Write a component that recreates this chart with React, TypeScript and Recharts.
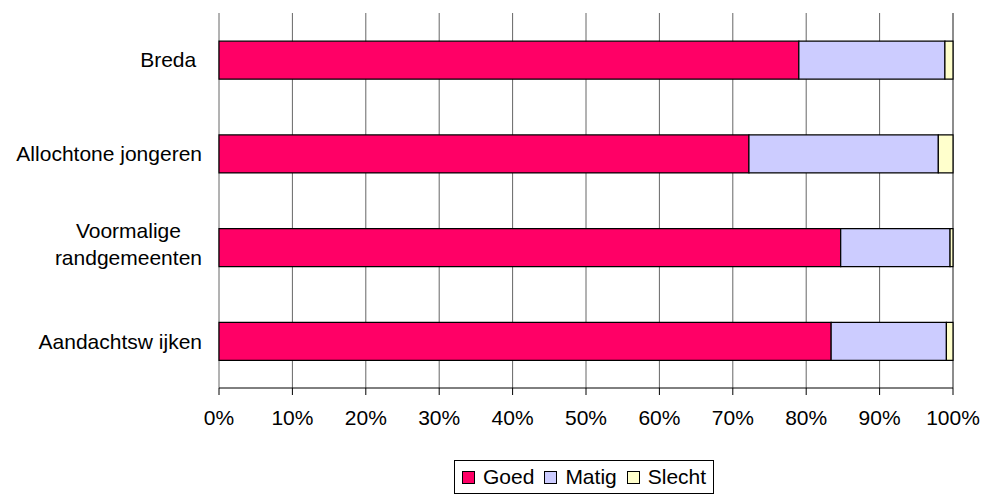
import React from 'react';
import { BarChart, Bar, XAxis, YAxis, CartesianGrid, Legend } from 'recharts';

const categories = ['Breda ', 'Allochtone jongeren', 'Voormalige\nrandgemeenten', 'Aandachtsw ijken'];
const goed = [79.0, 72.2, 84.7, 83.4];
const matig = [19.9, 25.8, 14.9, 15.7];
const slecht = [1.1, 2.0, 0.4, 0.9];
const xTicks = [0, 10, 20, 30, 40, 50, 60, 70, 80, 90, 100];
const frameTicks = [0, 1, 2, 3, 4];

const series = [
  { key: 'Goed', color: '#FF0066' },
  { key: 'Matig', color: '#CCCCFF' },
  { key: 'Slecht', color: '#FFFFCC' },
];

const data = categories.map((name, i) => ({ name, Goed: goed[i], Matig: matig[i], Slecht: slecht[i] }));

const FONT = '"Liberation Sans", Arial, sans-serif';
const FS = 21;

let ctx: CanvasRenderingContext2D | null = null;
const measure = (s: string) => {
  if (!ctx) ctx = document.createElement('canvas').getContext('2d');
  if (!ctx) return s.length * FS * 0.5;
  ctx.font = `${FS}px "Liberation Sans", Arial, sans-serif`;
  return ctx.measureText(s).width;
};

const CatTick = ({ x, y, payload }: any) => {
  const lines = String(payload.value).split('\n');
  if (lines.length === 1) {
    return (
      <text x={x} y={y} dy="0.36em" textAnchor="end" fontSize={FS} fontFamily={FONT} fill="#000" style={{ whiteSpace: 'pre' }}>
        {lines[0]}
      </text>
    );
  }
  // multi-line labels are centred on the widest line, right edge at the tick
  const w = Math.max(...lines.map(measure));
  const cx = x - w / 2;
  const lh = 27.5;
  const start = -((lines.length - 1) * lh) / 2 - 3.5;
  return (
    <text x={cx} y={y} textAnchor="middle" fontSize={FS} fontFamily={FONT} fill="#000">
      {lines.map((l, i) => (
        <tspan key={i} x={cx} dy={i === 0 ? start + 0.36 * FS : lh}>{l}</tspan>
      ))}
    </text>
  );
};

const LegendBox = () => (
  <div style={{ border: '1px solid #000', height: 34, boxSizing: 'border-box', display: 'flex', alignItems: 'center', paddingLeft: 7, fontFamily: FONT, fontSize: FS, color: '#000', background: '#fff' }}>
    {series.map((s) => (
      <div key={s.key} style={{ display: 'flex', alignItems: 'center', marginRight: 10 }}>
        <span style={{ width: 11, height: 11, border: '1px solid #000', background: s.color, display: 'inline-block', marginRight: 8 }} />
        <span>{s.key}</span>
      </div>
    ))}
  </div>
);

export default function App() {
  return (
    <div style={{ position: 'absolute', left: 0, top: 0, background: '#fff' }}>
      <BarChart
        width={986}
        height={497}
        data={data}
        layout="vertical"
        margin={{ top: 13, right: 33, left: 19, bottom: 35 }}
        barCategoryGap="30%"
      >
        <CartesianGrid horizontal={false} stroke="#666" />
        <XAxis
          type="number"
          domain={[0, 100]}
          ticks={xTicks}
          interval={0}
          tickFormatter={(v: number) => `${v}%`}
          axisLine={{ stroke: '#000' }}
          tickLine={{ stroke: '#000' }}
          tickSize={7}
          tickMargin={15}
          height={40}
          tick={{ fill: '#000', fontSize: FS, fontFamily: FONT }}
        />
        <YAxis
          yAxisId="frame"
          type="number"
          domain={[0, 4]}
          ticks={frameTicks}
          interval={0}
          width={0}
          tickSize={6}
          tickFormatter={() => ''}
          axisLine={{ stroke: '#000' }}
          tickLine={{ stroke: '#000' }}
        />
        <YAxis
          type="category"
          dataKey="name"
          width={200}
          axisLine={false}
          tickLine={false}
          tickSize={0}
          tickMargin={17}
          interval={0}
          tick={<CatTick />}
        />
        {series.map((s) => (
          <Bar key={s.key} dataKey={s.key} stackId="a" fill={s.color} stroke="#000" strokeWidth={1.2} isAnimationActive={false} />
        ))}
        <Legend
          content={<LegendBox />}
          wrapperStyle={{ left: 454, top: 460, bottom: 'auto', width: 260, height: 34 }}
        />
      </BarChart>
    </div>
  );
}
